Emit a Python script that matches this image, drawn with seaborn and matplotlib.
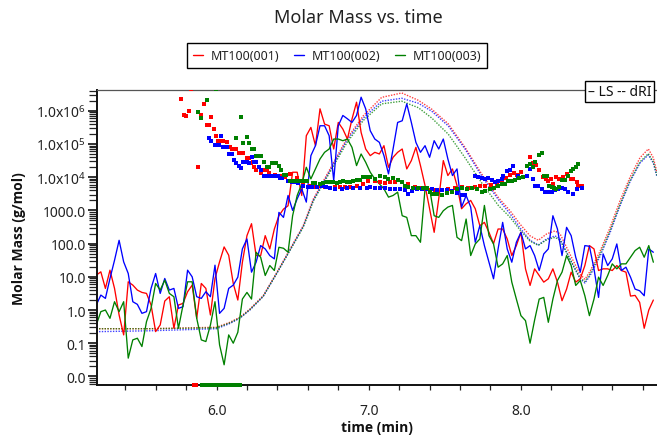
import numpy as np
import matplotlib
matplotlib.use("Agg")
import matplotlib.pyplot as plt
import seaborn as sns
from matplotlib.lines import Line2D
from matplotlib.ticker import FixedLocator, FuncFormatter, LogLocator, MultipleLocator, NullFormatter

# ---------------- data ----------------
SERIES = ["MT100(001)", "MT100(002)", "MT100(003)"]
COLORS = ["#ff0000", "#0000ff", "#008000"]

# LS molar mass traces (log10 of g/mol), sampled every LINE_DT minutes from LINE_T0
LINE_T0 = 5.21
LINE_DT = 0.03
red_line_log = [1.05, 1.15, 0.65, 1.2, 0.65, -0.15, -0.75, 0.85, 0.75, 0.6,
                0.53, 0.5, 0.15, -0.65, -0.45, 0.27, 0.4, -0.55, 0.15, 0.2,
                0.55, 0.75, -0.25, 0.8, 0.65, -0.15, 0.95, 1.45, 1.9, 1.65,
                0.8, 0.3, 1.44, 2.24, 2.6, 1.64, 1.64, 2.24, 1.84, 2.44,
                2.84, 3.04, 3.14, 4.15, 4.15, 3.45, 5.25, 5.5, 4.95, 6.06,
                5.6, 5.55, 4.85, 5.65, 5.45, 5.15, 5.75, 6.26, 5.35, 4.85,
                4.65, 4.75, 4.7, 4.95, 4.3, 4.6, 4.75, 4.85, 4.25, 4.5,
                4.9, 4.35, 3.75, 3.05, 2.34, 3.35, 4.5, 4.05, 4.25, 3.75,
                3.05, 3.2, 3.3, 3.05, 2.54, 2.64, 2.34, 2.0, 2.44, 2.44,
                2.14, 1.64, 1.94, 2.34, 1.24, 0.74, 1.24, 1.04, 0.84, 0.94,
                1.24, 0.84, 0.28, 0.63, 1.14, 0.84, 0.94, 1.34, 1.94, 1.84,
                1.19, 1.24, 1.24, 1.19, 1.34, 1.19, 1.14, 0.42, 0.44, 0.23,
                -0.55, 0.0, 0.3]
blue_line_log = [0.15, 0.45, 0.35, 0.95, 1.5, 2.1, 1.45, 1.1, 0.25, 0.17,
                 -0.1, -0.05, 0.65, 1.1, 0.5, 0.95, 0.6, 0.65, 0.05, 0.1,
                 1.2, 1.0, 0.4, 0.35, 0.55, 0.4, 1.35, -0.1, 0.05, 0.65,
                 0.75, 0.99, 1.84, 2.14, 1.14, 1.44, 1.94, 1.84, 1.64, 1.54,
                 2.94, 2.79, 3.45, 3.0, 3.35, 3.65, 3.25, 4.65, 4.95, 5.55,
                 5.55, 5.25, 3.9, 5.55, 5.86, 5.76, 5.65, 5.86, 6.41, 6.06,
                 5.4, 5.15, 5.05, 4.65, 4.1, 4.85, 5.65, 5.7, 6.21, 5.65,
                 5.05, 4.75, 4.95, 4.6, 5.1, 4.85, 5.15, 4.55, 4.05, 4.25,
                 3.1, 3.45, 3.1, 2.04, 2.54, 1.94, 1.44, 0.94, 1.84, 2.64,
                 1.84, 1.44, 2.04, 2.34, 1.84, 1.94, 1.64, 1.19, 1.69, 1.84,
                 2.84, 2.44, 1.64, 2.49, 2.24, 1.59, 1.14, 1.94, 1.92, 1.24,
                 0.38, 1.69, 1.34, 1.54, 1.99, 1.19, 1.29, 0.99, 0.63, 0.58,
                 0.43, 1.84, 1.74]
green_line_log = [-0.45, -0.05, 0.0, -0.25, 0.25, -0.05, 0.25, -1.45, -0.9, -0.85,
                  -1.1, -0.35, 0.05, 0.8, 0.6, 0.9, 0.5, 0.4, -0.55, 0.15,
                  0.85, 0.85, -0.25, -0.9, -0.95, -0.45, 0.25, -1.05, -1.65, -0.75,
                  -1.0, -0.67, 0.33, 0.53, 0.33, 1.74, 1.59, 1.04, 1.34, 1.19,
                  1.89, 1.86, 1.74, 2.84, 3.45, 3.8, 4.3, 3.95, 4.25, 4.55,
                  4.75, 4.85, 5.15, 5.15, 5.1, 5.15, 4.9, 4.35, 4.7, 4.45,
                  4.15, 3.95, 3.8, 3.65, 3.4, 3.45, 3.55, 2.84, 2.79, 2.24,
                  2.24, 2.04, 3.65, 3.65, 2.84, 2.79, 2.99, 3.1, 3.15, 2.19,
                  2.09, 2.74, 1.64, 1.99, 2.14, 3.15, 2.24, 1.99, 1.29, 1.39,
                  1.64, 0.84, 0.33, -0.17, -0.32, -1.0, -0.3, 0.33, 0.38, -0.37,
                  0.33, 0.89, 1.14, 1.64, 1.34, 0.74, 0.89, 0.43, -0.17, 0.33,
                  0.99, 0.74, 1.04, 1.39, 1.24, 1.39, 1.39, 1.59, 1.79, 1.89,
                  1.59, 1.94, 1.44]

# molar mass points (time in min, log10 g/mol)
red_sq_t = [5.834, 5.769, 5.92, 5.821, 5.788, 5.802, 5.9, 5.966, 5.94, 5.953,
            5.986, 5.999, 6.012, 6.028, 6.045, 6.071, 5.88, 6.091, 6.104, 6.117,
            6.13, 6.15, 6.163, 6.176, 6.202, 6.216, 6.242, 6.227, 6.246, 6.26,
            6.292, 6.306, 6.332, 6.345, 6.384, 6.417, 6.45, 6.483, 6.527, 6.57,
            6.614, 6.647, 6.68, 6.713, 6.746, 6.779, 6.811, 6.844, 6.877, 6.921,
            6.965, 6.997, 7.041, 7.074, 7.106, 7.139, 7.172, 7.217, 7.26, 7.304,
            7.337, 7.37, 7.403, 7.435, 7.48, 7.523, 7.567, 7.611, 7.652, 7.698,
            7.731, 7.764, 7.804, 7.841, 7.874, 7.902, 7.929, 7.955, 7.976, 8.001,
            8.06, 8.081, 8.099, 8.121, 8.143, 8.165, 8.18, 8.198, 8.213, 8.231,
            8.25, 8.279, 8.301, 8.327, 8.344, 8.367, 8.377, 8.4]
red_sq_log = [6.65, 6.35, 6.2, 5.98, 5.86, 5.83, 5.86, 5.8, 5.56, 5.56,
              5.44, 5.23, 5.08, 5.08, 5.08, 5.05, 4.3, 4.9, 4.85, 4.85,
              4.85, 4.73, 4.73, 4.73, 4.58, 4.58, 4.45, 4.42, 4.3, 4.21,
              4.13, 4.21, 4.22, 4.13, 4.07, 4.03, 4.0, 4.09, 3.97, 3.85,
              3.75, 3.72, 3.73, 3.7, 3.68, 3.7, 3.71, 3.72, 3.71, 3.73,
              3.8, 3.9, 3.9, 3.87, 3.83, 3.85, 3.87, 3.85, 3.8, 3.7,
              3.67, 3.65, 3.62, 3.6, 3.6, 3.65, 3.68, 3.7, 3.68, 3.7,
              3.73, 3.75, 3.78, 3.8, 3.87, 3.97, 4.07, 4.13, 4.07, 4.17,
              4.6, 4.43, 4.37, 4.23, 4.0, 3.95, 3.9, 3.95, 3.8, 4.0,
              3.95, 4.0, 4.1, 3.95, 3.95, 3.87, 3.75, 3.75]
blue_sq_t = [5.953, 5.966, 5.988, 6.001, 6.014, 6.03, 6.045, 6.071, 6.084, 6.104,
             6.117, 6.13, 6.15, 6.163, 6.176, 6.202, 6.216, 6.235, 6.248, 6.261,
             6.281, 6.294, 6.312, 6.325, 6.338, 6.352, 6.365, 6.378, 6.391, 6.404,
             6.417, 6.43, 6.472, 6.494, 6.516, 6.537, 6.57, 6.598, 6.625, 6.658,
             6.691, 6.719, 6.746, 6.779, 6.823, 6.857, 6.899, 6.943, 6.987, 7.009,
             7.041, 7.074, 7.106, 7.139, 7.172, 7.205, 7.238, 7.26, 7.285, 7.315,
             7.348, 7.381, 7.414, 7.447, 7.48, 7.512, 7.545, 7.578, 7.611, 7.633,
             7.698, 7.718, 7.742, 7.764, 7.786, 7.808, 7.83, 7.85, 7.874, 7.884,
             7.906, 7.929, 7.95, 7.983, 8.016, 8.038, 8.06, 8.081, 8.093, 8.114,
             8.137, 8.158, 8.18, 8.202, 8.224, 8.246, 8.268, 8.29, 8.311, 8.344,
             8.367, 8.4]
blue_sq_log = [5.17, 5.08, 4.97, 4.97, 4.97, 5.23, 4.9, 4.9, 4.69, 4.69,
               4.51, 4.42, 4.33, 4.27, 4.45, 4.45, 4.42, 4.6, 4.45, 4.45,
               4.3, 4.21, 4.03, 4.03, 4.03, 4.03, 4.03, 4.03, 4.03, 4.03,
               3.98, 3.98, 3.89, 3.87, 3.85, 3.83, 3.73, 3.71, 3.7, 3.71,
               3.73, 3.7, 3.68, 3.66, 3.65, 3.67, 3.68, 3.68, 3.69, 3.7,
               3.68, 3.68, 3.68, 3.66, 3.65, 3.63, 3.6, 3.5, 3.58, 3.65,
               3.65, 3.65, 3.63, 3.6, 3.62, 3.6, 3.57, 3.53, 3.45, 3.45,
               4.03, 4.0, 3.97, 3.95, 3.97, 3.92, 3.87, 3.9, 3.95, 4.03,
               4.2, 4.23, 4.33, 4.03, 4.0, 4.05, 4.25, 3.95, 3.75, 3.73,
               3.65, 3.55, 3.55, 3.55, 3.6, 3.65, 3.67, 3.63, 3.55, 3.5,
               3.65, 3.67]
green_sq_t = [5.999, 5.94, 5.88, 5.9, 6.163, 6.13, 6.202, 6.176, 6.216, 6.235,
              6.248, 6.261, 6.281, 6.294, 6.314, 6.334, 6.347, 6.367, 6.38, 6.393,
              6.413, 6.426, 6.445, 6.459, 6.483, 6.505, 6.527, 6.549, 6.57, 6.593,
              6.636, 6.647, 6.68, 6.702, 6.724, 6.746, 6.767, 6.79, 6.811, 6.833,
              6.855, 6.877, 6.899, 6.921, 6.943, 6.965, 6.987, 7.009, 7.041, 7.074,
              7.106, 7.129, 7.162, 7.195, 7.217, 7.238, 7.26, 7.293, 7.326, 7.359,
              7.381, 7.403, 7.424, 7.447, 7.48, 7.512, 7.545, 7.578, 7.611, 7.644,
              7.677, 7.71, 7.742, 7.764, 7.797, 7.82, 7.852, 7.874, 7.896, 7.917,
              7.94, 7.961, 7.99, 8.016, 8.038, 8.06, 8.081, 8.093, 8.121, 8.137,
              8.152, 8.17, 8.187, 8.202, 8.218, 8.231, 8.252, 8.268, 8.29, 8.311,
              8.329, 8.344, 8.362, 8.377]
green_sq_log = [6.65, 6.32, 5.95, 5.77, 5.8, 5.17, 5.2, 5.02, 5.02, 4.84,
                4.84, 4.64, 4.64, 4.64, 4.45, 4.31, 4.31, 4.43, 4.43, 4.43,
                4.33, 4.21, 4.07, 4.07, 3.9, 3.9, 3.9, 3.9, 3.9, 3.9,
                3.82, 3.82, 3.8, 3.83, 3.85, 3.85, 3.85, 3.83, 3.87, 3.9,
                3.87, 3.87, 3.9, 3.93, 3.93, 4.0, 4.0, 4.0, 3.95, 4.03,
                4.0, 3.95, 3.97, 3.93, 3.87, 3.75, 3.7, 3.67, 3.68, 3.69,
                3.69, 3.55, 3.5, 3.5, 3.47, 3.53, 3.55, 3.65, 3.67, 3.65,
                3.67, 3.65, 3.55, 3.58, 3.65, 3.68, 3.75, 3.8, 3.8, 3.9,
                3.9, 3.93, 3.97, 4.0, 4.33, 4.4, 4.3, 4.47, 4.67, 4.73,
                4.03, 4.03, 3.75, 3.72, 3.67, 3.63, 3.7, 3.93, 3.93, 4.05,
                4.2, 4.25, 4.3, 4.4]
# points that fall at the bottom of the axis
red_floor_t = [5.85, 5.865]
green_floor_t = [5.905, 5.93, 5.955, 5.98, 6.005, 6.03, 6.055, 6.08, 6.105, 6.13, 6.155]

# detector signals (relative response, dotted)
sig_t = [5.21, 5.563, 6.0, 6.089, 6.154, 6.22, 6.307, 6.396, 6.483, 6.57,
         6.636, 6.746, 6.855, 6.965, 7.085, 7.217, 7.326, 7.414, 7.523, 7.633,
         7.742, 7.852, 7.929, 7.994, 8.06, 8.114, 8.17, 8.224, 8.257, 8.30,
         8.344, 8.388, 8.421, 8.454, 8.519, 8.585, 8.651, 8.716, 8.782, 8.837,
         8.87, 8.894]
red_sig = [0.19, 0.19, 0.195, 0.212, 0.229, 0.257, 0.302, 0.381, 0.46, 0.54,
           0.63, 0.732, 0.834, 0.913, 0.975, 0.99, 0.965, 0.935, 0.885, 0.805,
           0.715, 0.635, 0.59, 0.545, 0.505, 0.49, 0.512, 0.522, 0.512, 0.466,
           0.42, 0.375, 0.358, 0.385, 0.452, 0.532, 0.624, 0.703, 0.77, 0.8,
           0.77, 0.72]
blue_sig = [0.18, 0.183, 0.19, 0.208, 0.226, 0.254, 0.3, 0.378, 0.457, 0.537,
            0.626, 0.727, 0.828, 0.905, 0.962, 0.972, 0.955, 0.928, 0.878, 0.8,
            0.708, 0.628, 0.58, 0.532, 0.49, 0.474, 0.495, 0.505, 0.495, 0.45,
            0.403, 0.36, 0.345, 0.37, 0.435, 0.515, 0.607, 0.688, 0.752, 0.78,
            0.752, 0.705]
green_sig = [0.19, 0.19, 0.193, 0.21, 0.227, 0.255, 0.3, 0.378, 0.456, 0.535,
             0.623, 0.722, 0.82, 0.897, 0.953, 0.962, 0.94, 0.905, 0.85, 0.77,
             0.685, 0.608, 0.568, 0.525, 0.487, 0.473, 0.492, 0.5, 0.49, 0.448,
             0.405, 0.363, 0.35, 0.376, 0.442, 0.522, 0.612, 0.692, 0.756, 0.784,
             0.756, 0.71]

X_TICKS = [6.0, 7.0, 8.0]
Y_DECADES = [-2, -1, 0, 1, 2, 3, 4, 5, 6]

# ---------------- style ----------------
sns.set_theme(style="ticks")
plt.rcParams["font.family"] = ["Noto Sans", "DejaVu Sans"]
plt.rcParams["mathtext.fontset"] = "custom"
plt.rcParams["mathtext.rm"] = "Noto Sans"
plt.rcParams["mathtext.it"] = "Noto Sans"
plt.rcParams["mathtext.bf"] = "Noto Sans:bold"
plt.rcParams["text.color"] = "#222222"
BOLD_FAMILY = ["Open Sans", "Roboto", "DejaVu Sans"]

fig = plt.figure(figsize=(6.57, 4.39), dpi=100)
ax = fig.add_axes([0.1469, 0.1214, 0.8531, 0.6713])
ax2 = ax.twinx()
ax.set_zorder(ax2.get_zorder() + 1)
ax.patch.set_visible(False)

ax.set_yscale("log")
XMIN, XMAX = 5.2116, 8.894
YMIN, YMAX = 10 ** -2.25, 10 ** 6.627
ax.set_xlim(XMIN, XMAX)
ax.set_ylim(YMIN, YMAX)

line_logs = [red_line_log, blue_line_log, green_line_log]
sq_t = [red_sq_t, blue_sq_t, green_sq_t]
sq_log = [red_sq_log, blue_sq_log, green_sq_log]
sigs = [red_sig, blue_sig, green_sig]

# detector signals (dotted) on hidden twin axis
for sig, c in zip(sigs, COLORS):
    sns.lineplot(x=sig_t, y=sig, ax=ax2, color=c, linewidth=1.0, alpha=0.75,
                 linestyle=(0, (1, 1)), estimator=None, sort=False)
ax2.set_ylim(0, 1)
ax2.set_xlim(XMIN, XMAX)
ax2.set_axis_off()

# LS traces
for vals, c in zip(line_logs, COLORS):
    t = LINE_T0 + LINE_DT * np.arange(len(vals))
    sns.lineplot(x=t, y=10.0 ** np.asarray(vals), ax=ax, color=c,
                 linewidth=0.95, estimator=None, sort=False)

# molar mass points
for tt, lg, c in zip(sq_t, sq_log, COLORS):
    sns.scatterplot(x=tt, y=10.0 ** np.asarray(lg), ax=ax, color=c, marker="s",
                    s=8, linewidth=0, zorder=5)
sns.scatterplot(x=red_floor_t, y=[YMIN] * len(red_floor_t), ax=ax, color=COLORS[0],
                marker="s", s=8, linewidth=0, zorder=6, clip_on=False)
sns.scatterplot(x=green_floor_t, y=[YMIN] * len(green_floor_t), ax=ax, color=COLORS[2],
                marker="s", s=8, linewidth=0, zorder=6, clip_on=False)
ax.set_xlim(XMIN, XMAX)
ax.set_ylim(YMIN, YMAX)

# ticks
def yfmt(v, pos):
    e = int(round(np.log10(v)))
    if e >= 4:
        return "1.0x10$^{%d}$" % e
    return "%.1f" % v

ax.yaxis.set_major_locator(FixedLocator([10.0 ** e for e in Y_DECADES]))
ax.yaxis.set_major_formatter(FuncFormatter(yfmt))
ax.yaxis.set_minor_locator(LogLocator(base=10, subs=np.arange(2, 10), numticks=40))
ax.yaxis.set_minor_formatter(NullFormatter())
ax.xaxis.set_major_locator(FixedLocator(X_TICKS))
ax.xaxis.set_major_formatter(FuncFormatter(lambda v, p: "%.1f" % v))
ax.xaxis.set_minor_locator(MultipleLocator(0.2))

ax.tick_params(axis="y", which="major", direction="out", length=6.5, width=1.3,
               labelsize=10, pad=1, colors="#222222")
ax.tick_params(axis="y", which="minor", direction="out", length=6.0, width=0.9,
               colors="#222222")
ax.tick_params(axis="x", which="major", direction="out", length=3.5, width=0.9,
               labelsize=10, pad=10, colors="#222222")
ax.tick_params(axis="x", which="minor", direction="out", length=3.5, width=0.9,
               colors="#222222")

for side in ["left", "bottom"]:
    ax.spines[side].set_color("#111111")
    ax.spines[side].set_linewidth(1.4)
ax.spines["top"].set_color("#555555")
ax.spines["top"].set_linewidth(0.9)
ax.spines["right"].set_visible(False)

ax.set_xlabel("time (min)", fontsize=10, fontweight="bold", color="#111111",
              family=BOLD_FAMILY)
ax.set_ylabel("Molar Mass (g/mol)", fontsize=10, fontweight="bold", color="#111111",
              family=BOLD_FAMILY)
ax.xaxis.set_label_coords(0.5, -0.12)
ax.xaxis.label.set_va("top")
ax.yaxis.set_label_coords(-0.126, 0.5)

fig.text(0.545, 0.959, "Molar Mass vs. time", ha="center", va="center", fontsize=13,
         color="#222222")

handles = [Line2D([0], [0], color=c, lw=1.0) for c in COLORS]
leg = fig.legend(handles, SERIES, loc="center", bbox_to_anchor=(0.513, 0.871), ncol=3,
                 frameon=True, fancybox=False, edgecolor="black", framealpha=1,
                 fontsize=9, handlelength=0.8, handletextpad=0.6, columnspacing=1.2,
                 borderpad=0.5)
leg.get_frame().set_linewidth(1.0)

fig.text(588 / 657, 1 - 92.5 / 439, "– LS -- dRI", ha="left", va="center", fontsize=10,
         color="#111111",
         bbox=dict(boxstyle="square,pad=0.2", fc="white", ec="black", lw=1.0))

fig.savefig("out.png", dpi=100)
